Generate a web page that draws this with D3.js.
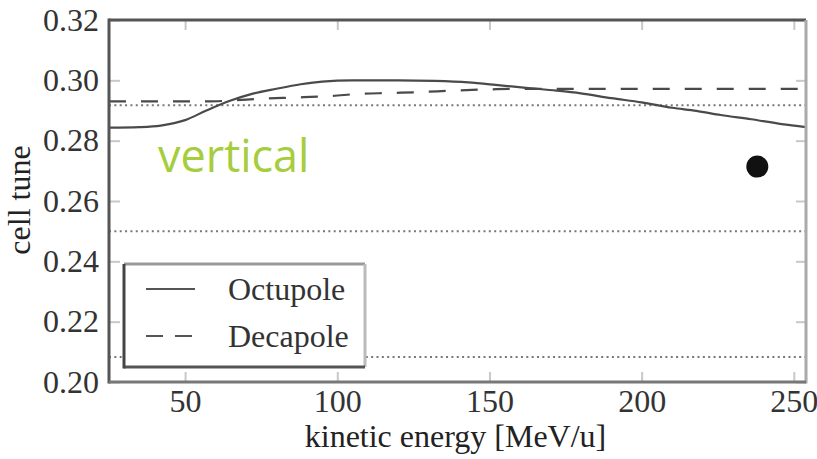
<!DOCTYPE html>
<html>
<head>
<meta charset="utf-8">
<script src="https://cdn.jsdelivr.net/npm/d3@7"></script>
<style>
  html, body { margin: 0; padding: 0; background: #fff; }
  svg { display: block; }
</style>
</head>
<body>
<script>
// Cell tune versus kinetic energy for octupole and decapole corrections
const octupoleEnergy = [25, 35, 42, 50, 57, 65, 72, 80, 88, 95, 105, 120, 132, 143, 152, 162, 172, 180, 190, 200, 210, 218, 226, 236, 246, 254];
const octupoleTune   = [0.2843, 0.2845, 0.2850, 0.2868, 0.2900, 0.2933, 0.2955, 0.2972, 0.2987, 0.2996, 0.3000, 0.3000, 0.2998, 0.2993, 0.2985, 0.2975, 0.2966, 0.2957, 0.2941, 0.2927, 0.2909, 0.2899, 0.2885, 0.2871, 0.2855, 0.2845];

const decapoleEnergy = [25, 57, 65, 75, 86, 98, 107, 117, 127, 138, 150, 160, 200, 254];
const decapoleTune   = [0.2930, 0.2930, 0.2933, 0.2939, 0.2943, 0.2948, 0.2955, 0.2958, 0.2961, 0.2966, 0.2970, 0.2972, 0.2972, 0.2972];

// Resonance lines
const resonanceTunes = [0.2917, 0.25, 0.2083];

// Measured working point
const measuredEnergy = [238];
const measuredTune   = [0.2714];

const xTicks = [50, 100, 150, 200, 250];
const yTicks = [0.20, 0.22, 0.24, 0.26, 0.28, 0.30, 0.32];
const legendLabels = ["Octupole", "Decapole"];
const legendDashes = [null, "17,12"];

const W = 817, H = 459;
const plotLeft = 109, plotRight = 806, plotTop = 20, plotBottom = 382;

const svg = d3.select("body").append("svg").attr("width", W).attr("height", H);
svg.append("rect").attr("width", W).attr("height", H).attr("fill", "#fff");

const x = d3.scaleLinear().domain([25, 254]).range([plotLeft, plotRight]);
const y = d3.scaleLinear().domain([0.20, 0.32]).range([plotBottom, plotTop]);

const serif = "'Liberation Serif', 'Times New Roman', serif";

// Inward ticks on all four sides
function styleAxis(g) {
  g.select(".domain").remove();
  g.selectAll(".tick line").attr("stroke", "#c8c8c8").attr("stroke-width", 2);
  g.selectAll(".tick text").attr("fill", "#333").style("font-family", serif).style("font-size", "32px");
}
svg.append("g").attr("transform", `translate(0,${plotBottom})`)
  .call(d3.axisBottom(x).tickValues(xTicks).tickSizeInner(-10).tickSizeOuter(0).tickPadding(7).tickFormat(d3.format("d")))
  .call(styleAxis);
svg.append("g").attr("transform", `translate(0,${plotTop})`)
  .call(d3.axisTop(x).tickValues(xTicks).tickSizeInner(-10).tickSizeOuter(0).tickFormat(""))
  .call(styleAxis);
svg.append("g").attr("transform", `translate(${plotLeft},0)`)
  .call(d3.axisLeft(y).tickValues(yTicks).tickSizeInner(-11).tickSizeOuter(0).tickPadding(10).tickFormat(d3.format(".2f")))
  .call(styleAxis);
svg.append("g").attr("transform", `translate(${plotRight},0)`)
  .call(d3.axisRight(y).tickValues(yTicks).tickSizeInner(-10).tickSizeOuter(0).tickFormat(""))
  .call(styleAxis);

// Resonance lines (dotted)
svg.append("g").selectAll("line").data(resonanceTunes).join("line")
  .attr("x1", plotLeft).attr("x2", plotRight)
  .attr("y1", d => y(d)).attr("y2", d => y(d))
  .attr("stroke", "#777").attr("stroke-width", 2).attr("stroke-dasharray", "2,3.35");

// Tune curves
const line = d3.line().x(d => x(d[0])).y(d => y(d[1])).curve(d3.curveMonotoneX);
svg.append("path")
  .datum(octupoleEnergy.map((e, i) => [e, octupoleTune[i]]))
  .attr("d", line).attr("fill", "none").attr("stroke", "#4a4a4a").attr("stroke-width", 2.2);
svg.append("path")
  .datum(decapoleEnergy.map((e, i) => [e, decapoleTune[i]]))
  .attr("d", line).attr("fill", "none").attr("stroke", "#4a4a4a").attr("stroke-width", 2.2)
  .attr("stroke-dasharray", "17,15");

// Measured point
svg.append("g").selectAll("circle").data(measuredEnergy).join("circle")
  .attr("cx", d => x(d)).attr("cy", (d, i) => y(measuredTune[i]))
  .attr("r", 11).attr("fill", "#111");

// Plane annotation
svg.append("text").attr("x", 158).attr("y", 172)
  .attr("fill", "#a6cd3c")
  .style("font-family", "'Open Sans', sans-serif").style("font-size", "45px")
  .text("vertical");

// Frame
const frame = svg.append("g").attr("stroke-width", 3);
frame.append("line").attr("x1", plotLeft).attr("x2", plotLeft).attr("y1", plotTop - 1.5).attr("y2", plotBottom + 1.5).attr("stroke", "#555");
frame.append("line").attr("x1", plotLeft).attr("x2", plotRight).attr("y1", plotTop).attr("y2", plotTop).attr("stroke", "#555");
frame.append("line").attr("x1", plotRight).attr("x2", plotRight).attr("y1", plotTop).attr("y2", plotBottom + 1.5).attr("stroke", "#aaa");
frame.append("line").attr("x1", plotLeft).attr("x2", plotRight).attr("y1", plotBottom).attr("y2", plotBottom).attr("stroke", "#777");

// Legend
const lg = svg.append("g");
const lx0 = 124, lx1 = 365, ly0 = 264, ly1 = 367;
lg.append("rect").attr("x", lx0).attr("y", ly0).attr("width", lx1 - lx0).attr("height", ly1 - ly0).attr("fill", "#fff");
lg.append("line").attr("x1", lx0).attr("x2", lx1).attr("y1", ly0).attr("y2", ly0).attr("stroke", "#999").attr("stroke-width", 3);
lg.append("line").attr("x1", lx1).attr("x2", lx1).attr("y1", ly0).attr("y2", ly1).attr("stroke", "#bbb").attr("stroke-width", 3);
lg.append("line").attr("x1", lx0).attr("x2", lx1).attr("y1", ly1).attr("y2", ly1).attr("stroke", "#555").attr("stroke-width", 3);
lg.append("line").attr("x1", lx0).attr("x2", lx0).attr("y1", ly0).attr("y2", ly1 + 1.5).attr("stroke", "#444").attr("stroke-width", 3);

const entries = lg.selectAll("g.entry").data(legendLabels).join("g")
  .attr("class", "entry")
  .attr("transform", (d, i) => `translate(0,${289 + i * 47})`);
entries.append("line").attr("x1", 146).attr("x2", 195).attr("y1", 0).attr("y2", 0)
  .attr("stroke", "#555").attr("stroke-width", 2.2)
  .attr("stroke-dasharray", (d, i) => legendDashes[i]);
entries.append("text").attr("x", 228).attr("y", 11)
  .attr("fill", "#333").style("font-family", serif).style("font-size", "32px")
  .text(d => d);

// Axis titles
svg.append("text").attr("x", (plotLeft + plotRight) / 2 - 2).attr("y", 447)
  .attr("text-anchor", "middle").attr("fill", "#222")
  .style("font-family", serif).style("font-size", "32px")
  .text("kinetic energy [MeV/u]");
svg.append("text").attr("transform", "translate(30,200) rotate(-90)")
  .attr("text-anchor", "middle").attr("fill", "#222")
  .style("font-family", serif).style("font-size", "32px")
  .text("cell tune");
</script>
</body>
</html>
